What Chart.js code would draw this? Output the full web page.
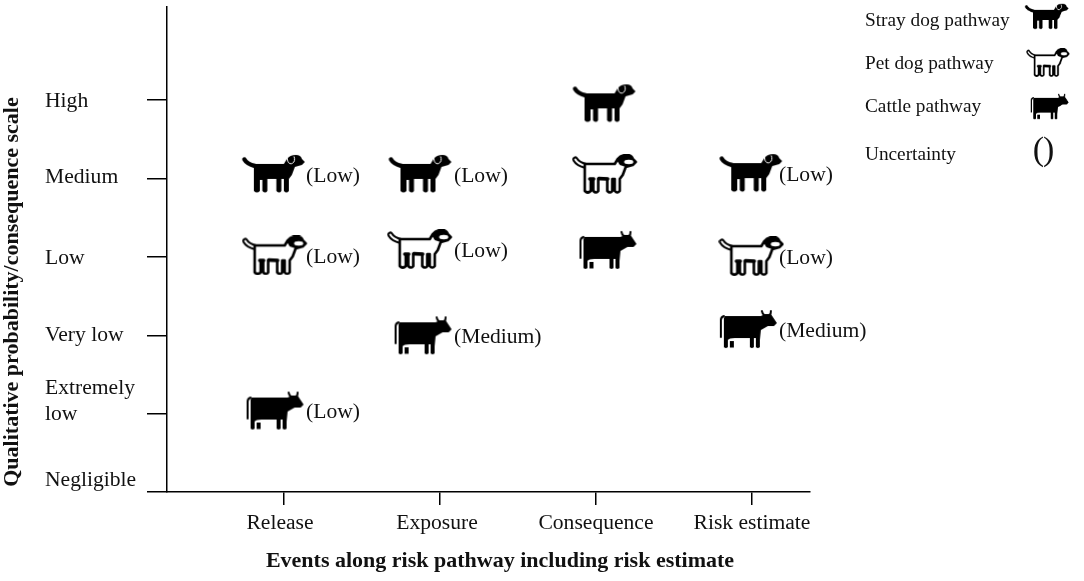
<!DOCTYPE html>
<html>
<head>
<meta charset="utf-8">
<script src="https://cdn.jsdelivr.net/npm/chart.js@4"></script>
<style>
  html, body { margin: 0; padding: 0; background: #fff; }
  canvas { display: block; }
</style>
</head>
<body>
<canvas id="myChart" width="1084" height="581"></canvas>
<script>
let events = ["Release", "Exposure", "Consequence", "Risk estimate"];
let levels = ["Negligible", ["Extremely", "low"], "Very low", "Low", "Medium", "High"];

// x is the event (1-4), y is the level (0-5)
let strayX = [0.935, 1.875, 3.055, 3.995];
let strayY = [4.06, 4.06, 4.96, 4.07];
let strayUnc = ["(Low)", "(Low)", "", "(Low)"];

let petX = [0.94, 1.87, 3.056, 3.996];
let petY = [3.02, 3.1, 4.06, 3.01];
let petUnc = ["(Low)", "(Low)", "", "(Low)"];

let cattleX = [0.946, 1.895, 3.08, 3.98];
let cattleY = [1.04, 2.0, 3.09, 2.08];
let cattleUnc = ["(Low)", "(Medium)", "", "(Medium)"];

let legendNames = ["Stray dog pathway", "Pet dog pathway", "Cattle pathway", "Uncertainty"];
let xTitle = "Events along risk pathway including risk estimate";
let yTitle = "Qualitative probability/consequence scale";

const FONT = '"Liberation Serif", "Times New Roman", serif';

function dogPath(c) {
  c.beginPath();
  c.moveTo(12, 9);
  c.lineTo(42, 9);
  c.lineTo(45, 4);
  c.quadraticCurveTo(48, 0, 54, 0);
  c.quadraticCurveTo(59, 0, 60, 4);
  c.lineTo(63, 7);
  c.lineTo(60, 10);
  c.lineTo(53, 12);
  c.lineTo(50, 20);
  c.lineTo(47, 24);
  c.lineTo(47, 36);
  c.quadraticCurveTo(44.5, 39, 42, 36);
  c.lineTo(42, 24);
  c.lineTo(39.5, 24);
  c.lineTo(39.5, 36);
  c.quadraticCurveTo(37.5, 39, 34.5, 36);
  c.lineTo(34.5, 24);
  c.lineTo(25.5, 24);
  c.lineTo(25.5, 36);
  c.quadraticCurveTo(23.5, 39, 20.5, 36);
  c.lineTo(20.5, 25);
  c.lineTo(18, 25);
  c.lineTo(18, 36);
  c.quadraticCurveTo(15, 39, 12, 36);
  c.closePath();
}

function makeDog(pet) {
  let cv = document.createElement("canvas");
  cv.width = 66;
  cv.height = 40;
  let c = cv.getContext("2d");
  c.translate(1, 1);
  c.lineCap = "round";
  c.lineJoin = "round";
  c.strokeStyle = "#000";
  if (pet) {
    c.lineWidth = 6;
    c.beginPath();
    c.moveTo(2.5, 4.5);
    c.quadraticCurveTo(5, 9, 13, 11);
    c.stroke();
    c.strokeStyle = "#fff";
    c.lineWidth = 2;
    c.beginPath();
    c.moveTo(2.5, 4.5);
    c.quadraticCurveTo(5, 9, 13, 11);
    c.stroke();
    dogPath(c);
    c.fillStyle = "#fff";
    c.fill();
    c.strokeStyle = "#000";
    c.lineWidth = 2.6;
    c.stroke();
    c.lineWidth = 3.4;
    c.beginPath();
    c.moveTo(17, 24);
    c.lineTo(21, 24);
    c.moveTo(26, 23.5);
    c.lineTo(35, 24);
    c.stroke();
    // dark head with a pale muzzle
    c.fillStyle = "#000";
    c.beginPath();
    c.moveTo(44, 5);
    c.quadraticCurveTo(48, -1, 55, 0);
    c.quadraticCurveTo(59, 0, 60, 4);
    c.lineTo(63, 7);
    c.lineTo(60, 10);
    c.lineTo(53, 12);
    c.lineTo(47, 10);
    c.closePath();
    c.fill();
    c.fillStyle = "#fff";
    c.beginPath();
    c.ellipse(56, 7, 4.6, 2.2, 0, 0, Math.PI * 2);
    c.fill();
  } else {
    c.lineWidth = 4.4;
    c.beginPath();
    c.moveTo(2.5, 4.5);
    c.quadraticCurveTo(5, 9, 13, 11);
    c.stroke();
    dogPath(c);
    c.fillStyle = "#000";
    c.fill();
    // droopy ear outline
    c.strokeStyle = "#fff";
    c.lineWidth = 1;
    c.beginPath();
    c.ellipse(49, 4, 3.6, 4.8, 0, -0.15 * Math.PI, 1.15 * Math.PI);
    c.stroke();
  }
  return cv;
}

function makeCow() {
  let cv = document.createElement("canvas");
  cv.width = 60;
  cv.height = 40;
  let c = cv.getContext("2d");
  c.translate(1, 1);
  c.lineCap = "round";
  c.lineJoin = "round";
  c.strokeStyle = "#000";
  c.fillStyle = "#000";
  c.lineWidth = 2;
  c.beginPath();
  c.moveTo(1, 27);
  c.lineTo(1, 10);
  c.quadraticCurveTo(1, 7, 4, 6);
  c.moveTo(42, 1);
  c.quadraticCurveTo(43, 6, 47, 5);
  c.quadraticCurveTo(51, 6, 51, 1);
  c.stroke();
  c.beginPath();
  c.moveTo(5, 6);
  c.lineTo(41, 6);
  c.lineTo(45, 4);
  c.lineTo(51, 4);
  c.lineTo(57, 13);
  c.lineTo(54, 16);
  c.lineTo(48, 16);
  c.lineTo(41, 20);
  c.lineTo(40, 30);
  c.lineTo(40, 37);
  c.quadraticCurveTo(38, 39, 36, 37);
  c.lineTo(36, 28);
  c.lineTo(34, 28);
  c.lineTo(34, 37);
  c.quadraticCurveTo(32, 39, 30, 37);
  c.lineTo(30, 28);
  c.lineTo(15, 28);
  c.quadraticCurveTo(9, 28, 8, 30);
  c.lineTo(8, 37);
  c.quadraticCurveTo(6, 39, 4, 37);
  c.lineTo(4, 8);
  c.closePath();
  c.fill();
  c.fillRect(10, 31, 4, 6.5);
  return cv;
}

let strayIcon = makeDog(false);
let petIcon = makeDog(true);
let cowIcon = makeCow();

function points(xs, ys) {
  return xs.map((x, i) => ({ x: x, y: ys[i] }));
}

// axis labels, uncertainty notes, titles and the key
const annotations = {
  id: "annotations",
  afterDraw(chart) {
    let c = chart.ctx;
    let xs = chart.scales.x;
    let ys = chart.scales.y;

    // the key's icons
    c.drawImage(strayIcon, 1024, 3, 46, 27);
    c.drawImage(petIcon, 1026, 48, 44, 29);
    c.drawImage(cowIcon, 1030, 93, 40, 27);

    c.save();
    c.translate(0, 2);
    c.fillStyle = "#111";
    c.textBaseline = "middle";
    c.font = "21.6px " + FONT;

    // y labels sit a little above their ticks
    let yShift = [-14, -14, -2, -1, -3, -1];
    c.textAlign = "left";
    levels.forEach((lab, i) => {
      let py = ys.getPixelForValue(i) + yShift[i];
      if (Array.isArray(lab)) {
        c.fillText(lab[0], 45, py - 13);
        c.fillText(lab[1], 45, py + 13);
      } else {
        c.fillText(lab, 45, py);
      }
    });

    let xShift = [-4, -3, 0, 0];
    c.textAlign = "center";
    events.forEach((lab, i) => {
      c.fillText(lab, xs.getPixelForValue(i + 1) + xShift[i], 521);
    });

    // uncertainty in brackets next to each animal
    let noteShift = [22, 14, 0, 27];
    c.textAlign = "left";
    [[strayY, strayUnc], [petY, petUnc], [cattleY, cattleUnc]].forEach(s => {
      s[1].forEach((t, i) => {
        if (!t) return;
        c.fillText(t, xs.getPixelForValue(i + 1) + noteShift[i], ys.getPixelForValue(s[0][i]));
      });
    });

    c.font = "bold 22px " + FONT;
    c.textAlign = "center";
    c.fillText(xTitle, 500, 559);
    c.save();
    c.translate(12, 290);
    c.rotate(-Math.PI / 2);
    c.fillText(yTitle, 0, 0);
    c.restore();

    c.font = "19.3px " + FONT;
    c.textAlign = "left";
    let keyY = [19, 62, 105, 153];
    legendNames.forEach((t, i) => c.fillText(t, 865, keyY[i]));
    c.textAlign = "center";
    c.font = "34px " + FONT;
    c.letterSpacing = "-1px";
    c.fillText("()", 1043, 149);
    c.restore();
  }
};

let ctx = document.getElementById("myChart").getContext("2d");
let chart = new Chart(ctx, {
  type: "scatter",
  data: {
    datasets: [
      { label: legendNames[0], data: points(strayX, strayY), pointStyle: strayIcon },
      { label: legendNames[1], data: points(petX, petY), pointStyle: petIcon },
      { label: legendNames[2], data: points(cattleX, cattleY), pointStyle: cowIcon },
    ],
  },
  options: {
    responsive: false,
    animation: false,
    layout: { padding: { top: 7, right: 274 } },
    plugins: {
      legend: { display: false },
      tooltip: { enabled: false },
    },
    scales: {
      x: {
        type: "linear",
        min: 0.25,
        max: 4.372,
        afterFit: s => { s.height = 89; },
        afterBuildTicks: s => { s.ticks = events.map((e, i) => ({ value: i + 1 })); },
        ticks: { display: false },
        border: { color: "#000", width: 1.5 },
        grid: { drawOnChartArea: false, drawTicks: true, tickLength: 13, color: "#000", lineWidth: 1.5 },
      },
      y: {
        type: "linear",
        min: 0,
        max: 6.19,
        afterFit: s => { s.width = 167; },
        afterBuildTicks: s => { s.ticks = levels.map((l, i) => ({ value: i })); },
        ticks: { display: false },
        border: { color: "#000", width: 1.5 },
        grid: { drawOnChartArea: false, drawTicks: true, tickLength: 20, color: "#000", lineWidth: 1.5 },
      },
    },
  },
  plugins: [annotations],
});
</script>
</body>
</html>
